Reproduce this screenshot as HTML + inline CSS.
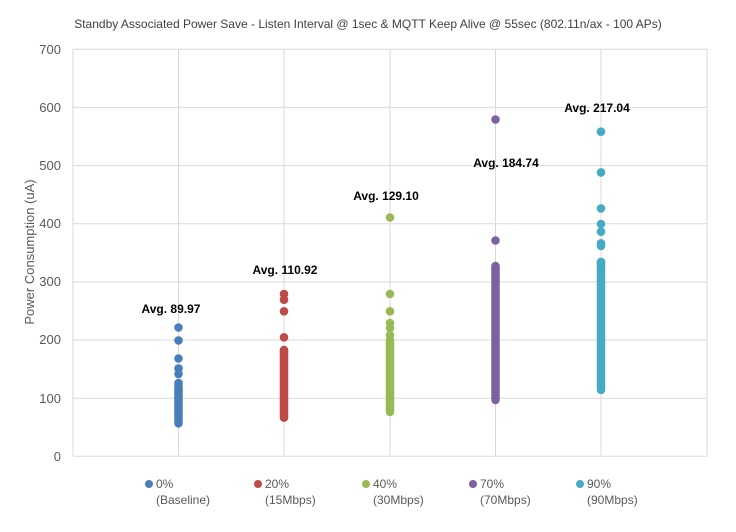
<!DOCTYPE html>
<html><head><meta charset="utf-8"><style>
body{margin:0;background:#fff;}
svg{display:block;font-family:"Liberation Sans",sans-serif;}
</style></head><body>
<svg width="736" height="532" viewBox="0 0 736 532">
<rect width="736" height="532" fill="#fff"/>
<text x="368" y="28" font-size="12" fill="#404040" text-anchor="middle">Standby Associated Power Save - Listen Interval @ 1sec &amp; MQTT Keep Alive @ 55sec (802.11n/ax - 100 APs)</text>
<g stroke="#d9d9d9" stroke-width="1">
<line x1="73" y1="49.3" x2="707" y2="49.3"/><line x1="73" y1="107.4" x2="707" y2="107.4"/>
<line x1="73" y1="165.6" x2="707" y2="165.6"/><line x1="73" y1="223.7" x2="707" y2="223.7"/>
<line x1="73" y1="281.9" x2="707" y2="281.9"/><line x1="73" y1="340" x2="707" y2="340"/>
<line x1="73" y1="398.2" x2="707" y2="398.2"/><line x1="73" y1="456.3" x2="707" y2="456.3"/>
<line x1="73" y1="49" x2="73" y2="456"/><line x1="178.5" y1="49" x2="178.5" y2="456"/>
<line x1="284" y1="49" x2="284" y2="456"/><line x1="390" y1="49" x2="390" y2="456"/>
<line x1="495.5" y1="49" x2="495.5" y2="456"/><line x1="601" y1="49" x2="601" y2="456"/>
<line x1="707" y1="49" x2="707" y2="456"/>
</g>
<g font-size="13" fill="#595959" text-anchor="end">
<text x="61" y="54">700</text><text x="61" y="112">600</text><text x="61" y="170">500</text>
<text x="61" y="228">400</text><text x="61" y="286">300</text><text x="61" y="344">200</text>
<text x="61" y="403">100</text><text x="61" y="461">0</text>
</g>
<text transform="translate(34,252) rotate(-90)" font-size="13" fill="#595959" text-anchor="middle">Power Consumption (uA)</text>
<g stroke-linecap="round" stroke-width="8.5">
<line x1="178.5" y1="423.5" x2="178.5" y2="386" stroke="#4a7ebb"/>
<line x1="284" y1="417.7" x2="284" y2="350" stroke="#be4b48"/>
<line x1="390" y1="412" x2="390" y2="340" stroke="#98b954"/>
<line x1="495.5" y1="400" x2="495.5" y2="266" stroke="#7d60a0"/>
<line x1="601" y1="390" x2="601" y2="262" stroke="#46aac5"/>
</g>
<g fill="#4a7ebb"><circle cx="178.5" cy="327.5" r="4.3"/><circle cx="178.5" cy="340.4" r="4.3"/><circle cx="178.5" cy="358.5" r="4.3"/><circle cx="178.5" cy="368.4" r="4.3"/><circle cx="178.5" cy="374" r="4.3"/><circle cx="178.5" cy="383" r="4.3"/></g>
<g fill="#be4b48"><circle cx="284" cy="294" r="4.3"/><circle cx="284" cy="299.7" r="4.3"/><circle cx="284" cy="311.3" r="4.3"/><circle cx="284" cy="337.3" r="4.3"/><circle cx="284" cy="352" r="4.3"/></g>
<g fill="#98b954"><circle cx="390" cy="217.5" r="4.3"/><circle cx="390" cy="294" r="4.3"/><circle cx="390" cy="311.3" r="4.3"/><circle cx="390" cy="323" r="4.3"/><circle cx="390" cy="328" r="4.3"/><circle cx="390" cy="335" r="4.3"/></g>
<g fill="#7d60a0"><circle cx="495.5" cy="119.5" r="4.3"/><circle cx="495.5" cy="240.5" r="4.3"/></g>
<g fill="#46aac5"><circle cx="601" cy="131.7" r="4.3"/><circle cx="601" cy="172.4" r="4.3"/><circle cx="601" cy="208.4" r="4.3"/><circle cx="601" cy="224" r="4.3"/><circle cx="601" cy="231.7" r="4.3"/><circle cx="601" cy="243.3" r="4.3"/><circle cx="601" cy="246" r="4.3"/><circle cx="601" cy="262" r="4.3"/></g>
<g font-size="12" font-weight="bold" fill="#000" text-anchor="middle">
<text x="171" y="313">Avg. 89.97</text><text x="285" y="274">Avg. 110.92</text>
<text x="386" y="200">Avg. 129.10</text><text x="506" y="167">Avg. 184.74</text>
<text x="597" y="112">Avg. 217.04</text>
</g>
<g font-size="12" fill="#595959">
<circle cx="149" cy="484" r="4" fill="#4a7ebb"/><text x="156" y="488">0%</text><text x="156" y="504">(Baseline)</text>
<circle cx="258" cy="484" r="4" fill="#be4b48"/><text x="265" y="488">20%</text><text x="265" y="504">(15Mbps)</text>
<circle cx="366" cy="484" r="4" fill="#98b954"/><text x="373" y="488">40%</text><text x="373" y="504">(30Mbps)</text>
<circle cx="473" cy="484" r="4" fill="#7d60a0"/><text x="480" y="488">70%</text><text x="480" y="504">(70Mbps)</text>
<circle cx="580" cy="484" r="4" fill="#46aac5"/><text x="587" y="488">90%</text><text x="587" y="504">(90Mbps)</text>
</g>
</svg>
</body></html>
